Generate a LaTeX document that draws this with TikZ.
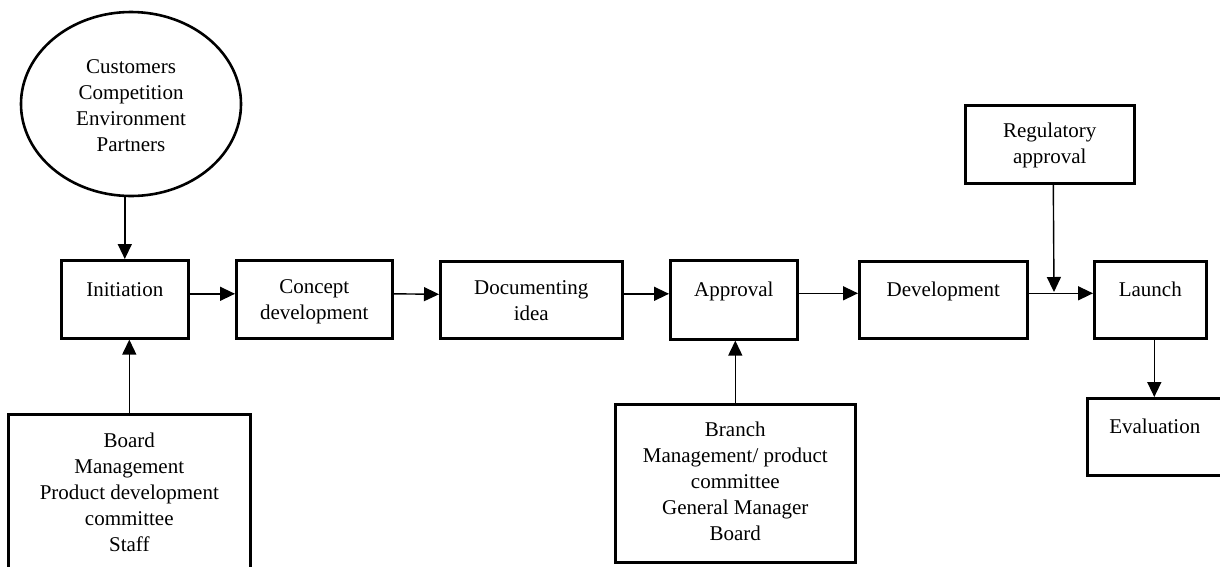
\documentclass[tikz,border=0pt]{standalone}
\usepackage{fontspec}
\setmainfont{Liberation Serif}
\usetikzlibrary{arrows.meta,shapes.geometric}
\newcommand\diagfont{\fontsize{21}{26}\selectfont}
\begin{document}
\begin{tikzpicture}[x=1pt,y=-1pt,
  box/.style={draw, line width=2.6pt, rectangle, inner sep=0pt, align=center,
              anchor=north west, font=\diagfont},
  src/.style={draw, line width=2.6pt, ellipse, inner sep=0pt, align=center, font=\diagfont},
  flow/.style={line width=1.4pt, -{Triangle[length=15pt,width=14pt]}}
]
\useasboundingbox (0,0) rectangle (1220,566);
\clip (0,0) rectangle (1220,566);

% external inputs
\node[src, minimum width=220pt, minimum height=184pt, text height=97pt, text depth=3pt] (ext) at (131,104)
  {Customers\\Competition\\Environment\\Partners};

% main process chain (text height/depth measured from the last baseline)
\node[box, minimum width=127pt, text height=36pt, text depth=42pt] (init)    at (60,259)   {Initiation};
\node[box, minimum width=156pt, text height=59pt, text depth=19pt] (concept) at (235,259)  {Concept\\development};
\node[box, minimum width=182pt, text height=59pt, text depth=18pt] (doc)     at (439,260)  {Documenting\\idea};
\node[box, minimum width=127pt, text height=36pt, text depth=43pt] (approv)  at (669,259)  {Approval};
\node[box, minimum width=168pt, text height=35pt, text depth=42pt] (devel)   at (858,260)  {Development};
\node[box, minimum width=112pt, text height=35pt, text depth=42pt] (launch)  at (1093,260) {Launch};

% side boxes
\node[box, minimum width=169pt, text height=58pt, text depth=20pt] (reg)    at (964,104)  {Regulatory\\approval};
\node[box, minimum width=135pt, text height=35pt, text depth=42pt] (eval)   at (1086,397) {Evaluation};
\node[box, minimum width=242pt, text height=137pt, text depth=25pt] (board) at (7,413)
  {Board\\Management\\Product development\\committee\\Staff};
\node[box, minimum width=240pt, text height=136pt, text depth=22pt] (branch) at (614,403)
  {Branch\\Management/ product\\committee\\General Manager\\Board};

% connectors
\draw[flow] (ext.south -| init.north) -- (init.north);
\draw[flow] ([yshift=5.5pt]init.east)    -- ([yshift=5.5pt]concept.west);
\draw[flow] ([yshift=5.5pt]concept.east) -- ([yshift=5.5pt]doc.west);
\draw[flow] ([yshift=6pt]doc.east)       -- ([yshift=6pt]approv.west);
\draw[flow] ([yshift=6.5pt]approv.east)  -- ([yshift=6.5pt]devel.west);
\draw[flow] ([yshift=6.5pt]devel.east)   -- ([yshift=6.5pt]launch.west);
\coordinate (join) at (1054,292);
\draw[flow] ([xshift=3.5pt]reg.south) -- (join);
\draw[flow] (board.north) -- (board.north |- init.south);
\draw[flow] (branch.north) -- (branch.north |- approv.south);
\draw[flow] ([xshift=4pt]launch.south) -- ([xshift=4pt]launch.south |- eval.north);
\end{tikzpicture}
\end{document}
